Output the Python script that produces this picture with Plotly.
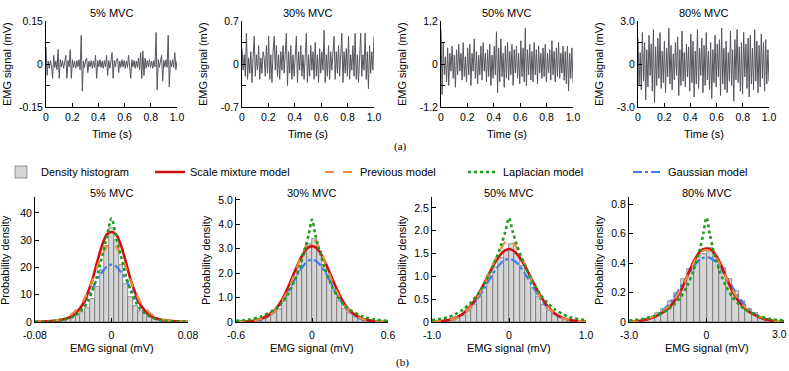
import plotly.graph_objects as go

W, H = 789, 371
SANS = "Liberation Sans, Arial, sans-serif"
SERIF = "Liberation Serif, Times New Roman, serif"

mvc_titles = ["5% MVC", "30% MVC", "50% MVC", "80% MVC"]

# ---- (a) raw EMG, 120 samples over 1 s ----
emg_5 = [0.06, -0.04, 0.01, -0.015, 0.012, -0.01, -0.05, 0.03, -0.012, 0.01,
         -0.02, 0.05, -0.05, 0.015, -0.01, 0.012, -0.015, 0.01, 0.03, -0.05,
         0.012, -0.01, 0.05, -0.05, 0.015, -0.012, 0.01, -0.015, 0.012, -0.01,
         0.015, -0.02, 0.10, -0.095, 0.01, -0.012, 0.015, 0.02, -0.03, 0.01,
         -0.01, 0.012, -0.015, 0.01, -0.012, 0.03, -0.05, 0.012, -0.01, 0.015,
         -0.012, 0.01, -0.015, 0.012, -0.01, 0.03, -0.04, 0.012, -0.015, 0.01,
         0.04, -0.05, 0.012, -0.01, 0.015, 0.02, -0.03, 0.01, -0.012, 0.015,
         -0.01, 0.012, -0.015, 0.01, -0.012, 0.03, -0.02, -0.05, 0.015, -0.01,
         0.012, -0.015, 0.01, -0.012, 0.02, -0.02, 0.04, -0.05, 0.045, -0.04,
         0.02, -0.015, 0.012, -0.01, 0.015, -0.012, 0.01, -0.015, 0.012, -0.01,
         0.11, -0.09, 0.015, -0.012, 0.01, 0.03, -0.06, 0.012, -0.01, 0.015,
         -0.012, 0.10, -0.08, 0.012, -0.01, 0.015, -0.012, 0.04, -0.02, 0.01]
emg_30 = [0.25, -0.1, 0.15, -0.2, 0.5, -0.25, 0.1, -0.15, 0.2, -0.3,
          0.1, 0.45, -0.2, 0.15, -0.1, 0.3, -0.25, 0.1, -0.15, 0.2,
          0.1, -0.2, 0.3, -0.15, 0.45, -0.25, 0.15, -0.3, 0.2, 0.45,
          -0.1, 0.3, -0.2, 0.15, -0.25, 0.2, -0.1, 0.3, -0.15, 0.1,
          0.5, -0.35, 0.2, -0.15, 0.3, -0.25, 0.15, -0.2, 0.25, 0.45,
          -0.3, 0.2, -0.1, 0.3, -0.2, 0.15, -0.25, 0.2, 0.5, -0.3,
          0.15, -0.2, 0.3, -0.1, 0.2, -0.25, 0.35, -0.2, 0.15, -0.3,
          0.25, -0.15, 0.2, -0.1, 0.55, -0.3, 0.15, -0.2, 0.3, -0.25,
          0.2, -0.1, 0.15, 0.45, -0.25, 0.2, -0.15, 0.3, -0.2, 0.1,
          0.5, -0.3, 0.2, -0.15, 0.25, -0.2, 0.45, -0.25, 0.15, -0.1,
          0.3, -0.2, 0.5, -0.25, 0.15, -0.3, 0.2, 0.5, -0.2, 0.15,
          -0.1, 0.5, -0.25, 0.2, -0.4, 0.3, -0.15, 0.2, -0.1, 0.45]
emg_50 = [0.95, -0.85, 0.6, -0.3, 0.2, -0.5, 0.45, -0.6, 0.3, -0.2,
          0.5, -0.4, 0.25, -0.65, 0.4, -0.3, 0.55, -0.2, 0.3, -0.45,
          0.6, -0.35, 0.2, -0.5, 0.45, -0.3, 0.55, -0.6, 0.3, -0.2,
          0.7, -0.4, 0.35, -0.55, 0.25, -0.3, 0.5, -0.45, 0.6, -0.2,
          0.3, -0.5, 0.4, -0.35, 0.55, -0.6, 0.25, -0.4, 0.5, -0.3,
          0.9, -0.8, 0.45, -0.5, 0.7, -0.35, 0.3, -0.65, 0.5, -0.4,
          0.6, -0.45, 0.35, -0.3, 0.55, -0.6, 0.4, -0.25, 0.5, -0.4,
          0.3, -0.55, 0.65, -0.35, 0.45, -0.5, 1.0, -0.6, 0.4, -0.3,
          0.55, -0.45, 0.35, -0.5, 0.6, -0.3, 0.4, -0.55, 0.5, -0.25,
          0.3, -0.4, 0.45, -0.35, 0.55, -0.5, 0.3, -0.25, 0.4, -0.45,
          0.65, -0.3, 0.35, -0.5, 0.45, -0.35, 0.6, -0.4, 0.3, -0.25,
          0.5, -0.45, 0.35, -0.55, 0.5, -0.75, 0.3, -0.4, 0.45, -0.5]
emg_80 = [1.8, -1.5, 0.8, -1.8, 2.2, -1.2, 1.5, -2.5, 1.0, -1.6,
          2.0, -0.8, 1.4, -1.9, 2.4, -2.7, 1.2, -1.5, 1.8, -1.0,
          2.2, -1.7, 0.9, -1.3, 1.6, -2.0, 1.1, -0.9, 2.5, -1.4,
          1.3, -1.8, 0.7, -1.1, 1.5, -0.8, 1.9, -2.2, 1.0, -1.5,
          2.3, -1.2, 0.8, -1.6, 1.4, -0.9, 1.2, -1.9, 2.1, -1.3,
          1.6, -2.3, 0.9, -1.4, 2.4, -1.7, 1.1, -0.8, 1.8, -2.0,
          1.3, -1.5, 2.2, -1.1, 0.9, -1.8, 1.5, -2.4, 1.0, -1.3,
          2.0, -1.6, 1.4, -0.9, 1.7, -2.2, 2.5, -1.4, 1.1, -1.8,
          1.6, -2.0, 0.8, -1.2, 2.3, -1.5, 1.0, -2.6, 1.7, -1.1,
          2.4, -1.3, 1.2, -1.9, 1.5, -2.1, 2.2, -0.9, 1.4, -1.7,
          1.8, -2.3, 2.0, -1.4, 1.1, -1.8, 2.4, -1.2, 1.6, -2.0,
          1.3, -1.6, 2.1, -1.0, 1.5, -1.9, 1.7, -1.4, 1.0, -1.2]
emg_signals = [emg_5, emg_30, emg_50, emg_80]
emg_lim = [0.15, 0.7, 1.2, 3.0]
emg_ylabels = [["-0.15", "0", "0.15"], ["-0.7", "0", "0.7"],
               ["-1.2", "0", "1.2"], ["-3.0", "0", "3.0"]]
time_ticks = [0, 0.2, 0.4, 0.6, 0.8, 1.0]
time_ticktext = ["0", "0.2", "0.4", "0.6", "0.8", "1.0"]

# ---- (b) density histograms ----
hist_x_5 = [-0.06, -0.055, -0.05, -0.045, -0.04, -0.035, -0.03, -0.025, -0.02, -0.015, -0.01, -0.005,
            0, 0.005, 0.01, 0.015, 0.02, 0.025, 0.03, 0.035, 0.04, 0.045, 0.05, 0.055, 0.06]
hist_y_5 = [0.3, 0.5, 0.8, 1.2, 1.8, 2.5, 3.5, 5, 8.5, 13, 19, 28,
            34.5, 30, 21, 14, 9, 6, 4, 3, 2, 1.3, 0.8, 0.5, 0.3]
hist_x_30 = [-0.46, -0.42, -0.38, -0.34, -0.30, -0.26, -0.22, -0.18, -0.14, -0.10, -0.06, -0.02,
             0.02, 0.06, 0.10, 0.14, 0.18, 0.22, 0.26, 0.30, 0.34, 0.38, 0.42, 0.46]
hist_y_30 = [0.04, 0.07, 0.12, 0.2, 0.35, 0.55, 0.85, 1.25, 1.75, 2.3, 2.8, 3.2,
             3.4, 2.9, 2.35, 1.75, 1.25, 0.85, 0.55, 0.35, 0.2, 0.12, 0.07, 0.04]
hist_x_50 = [-0.875, -0.805, -0.735, -0.665, -0.595, -0.525, -0.455, -0.385, -0.315, -0.245, -0.175, -0.105, -0.035,
             0.035, 0.105, 0.175, 0.245, 0.315, 0.385, 0.455, 0.525, 0.595, 0.665, 0.735, 0.805, 0.875]
hist_y_50 = [0.02, 0.035, 0.06, 0.1, 0.16, 0.25, 0.38, 0.55, 0.75, 1.0, 1.2, 1.4, 1.55,
             1.7, 1.48, 1.22, 1.0, 0.75, 0.55, 0.38, 0.25, 0.16, 0.1, 0.06, 0.035, 0.02]
hist_x_80 = [-2.875, -2.625, -2.375, -2.125, -1.875, -1.625, -1.375, -1.125, -0.875, -0.625, -0.375, -0.125,
             0.125, 0.375, 0.625, 0.875, 1.125, 1.375, 1.625, 1.875, 2.125, 2.375, 2.625, 2.875]
hist_y_80 = [0.005, 0.01, 0.02, 0.035, 0.06, 0.09, 0.14, 0.2, 0.29, 0.36, 0.42, 0.46,
             0.5, 0.44, 0.37, 0.29, 0.21, 0.14, 0.09, 0.06, 0.035, 0.02, 0.01, 0.005]
hist_x = [hist_x_5, hist_x_30, hist_x_50, hist_x_80]
hist_y = [hist_y_5, hist_y_30, hist_y_50, hist_y_80]
bin_width = [0.005, 0.04, 0.07, 0.25]

# ---- (b) fitted model curves (read at these x points) ----
curve_x_5 = [-0.08, -0.06, -0.05, -0.04, -0.03, -0.025, -0.02, -0.015, -0.01, -0.005, 0,
             0.005, 0.01, 0.015, 0.02, 0.025, 0.03, 0.04, 0.05, 0.06, 0.08]
scale_5 = [0.1, 0.4, 1.0, 2.5, 6.5, 10.5, 15.5, 22, 28, 32, 33, 32, 28, 22, 15.5, 10.5, 6.5, 2.5, 1.0, 0.4, 0.1]
prev_5 = [0.1, 0.5, 1.3, 3.3, 7.5, 11, 15, 20, 24.5, 27.5, 29, 27.5, 24.5, 20, 15, 11, 7.5, 3.3, 1.3, 0.5, 0.1]
lap_5 = [0.1, 0.4, 0.9, 2.0, 4.8, 7.5, 11.5, 17, 24, 31, 38, 31, 24, 17, 11.5, 7.5, 4.8, 2.0, 0.9, 0.4, 0.1]
gauss_5 = [0, 0.14, 0.66, 2.3, 6.1, 9.2, 12.2, 15.7, 18.2, 20.3, 21, 20.3, 18.2, 15.7, 12.2, 9.2, 6.1, 2.3, 0.66, 0.14, 0]

curve_x_30 = [-0.6, -0.5, -0.4, -0.3, -0.25, -0.2, -0.15, -0.1, -0.05, -0.025, 0,
              0.025, 0.05, 0.1, 0.15, 0.2, 0.25, 0.3, 0.4, 0.5, 0.6]
scale_30 = [0.01, 0.03, 0.13, 0.45, 0.8, 1.3, 1.9, 2.5, 2.95, 3.07, 3.1, 3.07, 2.95, 2.5, 1.9, 1.3, 0.8, 0.45, 0.13, 0.03, 0.01]
prev_30 = [0.01, 0.03, 0.12, 0.42, 0.75, 1.2, 1.8, 2.5, 3.1, 3.33, 3.4, 3.33, 3.1, 2.5, 1.8, 1.2, 0.75, 0.42, 0.12, 0.03, 0.01]
lap_30 = [0.05, 0.1, 0.23, 0.5, 0.72, 1.05, 1.55, 2.2, 3.1, 3.6, 4.2, 3.6, 3.1, 2.2, 1.55, 1.05, 0.72, 0.5, 0.23, 0.1, 0.05]
gauss_30 = [0.002, 0.015, 0.095, 0.4, 0.71, 1.12, 1.61, 2.07, 2.42, 2.52, 2.55, 2.52, 2.42, 2.07, 1.61, 1.12, 0.71, 0.4, 0.095, 0.015, 0.002]

curve_x_50 = [-1.0, -0.8, -0.7, -0.6, -0.5, -0.4, -0.3, -0.2, -0.1, -0.05, 0,
              0.05, 0.1, 0.2, 0.3, 0.4, 0.5, 0.6, 0.7, 0.8, 1.0]
scale_50 = [0.01, 0.04, 0.09, 0.18, 0.35, 0.6, 0.92, 1.25, 1.5, 1.57, 1.6, 1.57, 1.5, 1.25, 0.92, 0.6, 0.35, 0.18, 0.09, 0.04, 0.01]
prev_50 = [0.01, 0.04, 0.08, 0.17, 0.33, 0.57, 0.9, 1.3, 1.62, 1.75, 1.8, 1.75, 1.62, 1.3, 0.9, 0.57, 0.33, 0.17, 0.08, 0.04, 0.01]
lap_50 = [0.04, 0.1, 0.17, 0.27, 0.42, 0.62, 0.9, 1.25, 1.7, 1.97, 2.28, 1.97, 1.7, 1.25, 0.9, 0.62, 0.42, 0.27, 0.17, 0.1, 0.04]
gauss_50 = [0.003, 0.03, 0.074, 0.16, 0.31, 0.53, 0.8, 1.08, 1.3, 1.36, 1.38, 1.36, 1.3, 1.08, 0.8, 0.53, 0.31, 0.16, 0.074, 0.03, 0.003]

curve_x_80 = [-3.0, -2.5, -2.0, -1.5, -1.25, -1.0, -0.75, -0.5, -0.25, -0.125, 0,
              0.125, 0.25, 0.5, 0.75, 1.0, 1.25, 1.5, 2.0, 2.5, 3.0]
scale_80 = [0.003, 0.01, 0.035, 0.09, 0.14, 0.21, 0.31, 0.41, 0.48, 0.495, 0.5, 0.495, 0.48, 0.41, 0.31, 0.21, 0.14, 0.09, 0.035, 0.01, 0.003]
prev_80 = [0.003, 0.012, 0.04, 0.1, 0.15, 0.22, 0.31, 0.4, 0.47, 0.485, 0.49, 0.485, 0.47, 0.4, 0.31, 0.22, 0.15, 0.1, 0.04, 0.012, 0.003]
lap_80 = [0.01, 0.02, 0.041, 0.084, 0.12, 0.17, 0.245, 0.35, 0.5, 0.6, 0.71, 0.6, 0.5, 0.35, 0.245, 0.17, 0.12, 0.084, 0.041, 0.02, 0.01]
gauss_80 = [0.002, 0.0098, 0.038, 0.112, 0.168, 0.24, 0.31, 0.378, 0.425, 0.436, 0.44, 0.436, 0.425, 0.378, 0.31, 0.24, 0.168, 0.112, 0.038, 0.0098, 0.002]

curve_x = [curve_x_5, curve_x_30, curve_x_50, curve_x_80]
scale_mix = [scale_5, scale_30, scale_50, scale_80]
previous = [prev_5, prev_30, prev_50, prev_80]
laplacian = [lap_5, lap_30, lap_50, lap_80]
gaussian = [gauss_5, gauss_30, gauss_50, gauss_80]

pdf_xlim = [0.08, 0.6, 1.0, 3.0]
pdf_xticktext = [["-0.08", "0", "0.08"], ["-0.6", "0", "0.6"], ["-1.0", "0", "1.0"], ["-3.0", "0", ""]]
pdf_yticks = [[0, 10, 20, 30, 40], [0, 1, 2, 3, 4, 5], [0, 0.5, 1.0, 1.5, 2.0, 2.5], [0, 0.2, 0.4, 0.6, 0.8]]
pdf_yticktext = [["0", "10", "20", "30", "40"], ["0", "1.0", "2.0", "3.0", "4.0", "5.0"],
                 ["0", "0.5", "1.0", "1.5", "2.0", "2.5"], ["0", "0.2", "0.4", "0.6", "0.8"]]
pdf_ymax = [45.8, 5.12, 2.74, 0.85]

# pixel layout of the panels
top_px = [(46, 177), (242, 374), (441, 573), (638, 769)]
top_y = (21, 107)
bot_px = [(35, 188), (236, 388), (432, 586), (629, 784)]
bot_y = (197, 322)


def fx(p):
    return p / W


def fy(p):
    return 1 - p / H


def note(text, x, y, **kw):
    d = dict(text=text, x=fx(x), y=fy(y), xref="paper", yref="paper", showarrow=False,
             xanchor="center", yanchor="middle")
    d.update(kw)
    return d


fig = go.Figure()
layout = {}
ann = []
axis_common = dict(showgrid=False, zeroline=False, showline=True, linecolor="black", linewidth=1,
                   ticks="inside", ticklen=4, tickcolor="black", tickwidth=1, automargin=False,
                   tickfont=dict(family=SANS, size=10.5, color="black"))

models = [
    ("Gaussian model", gaussian, dict(color="#3d7ef2", width=2.2, dash="dashdot"), "legend5"),
    ("Scale mixture model", scale_mix, dict(color="#d01010", width=2.6), "legend2"),
    ("Previous model", previous, dict(color="#f28a3c", width=2.2, dash="dash"), "legend3"),
    ("Laplacian model", laplacian, dict(color="#1e9c1e", width=2.6, dash="dot"), "legend4"),
]

for i in range(4):
    # --- top row: raw EMG ---
    xa, ya = f"x{i + 1}", f"y{i + 1}"
    sig = emg_signals[i]
    t = [k / (len(sig) - 1) for k in range(len(sig))]
    fig.add_trace(go.Scatter(x=t, y=sig, mode="lines", xaxis=xa, yaxis=ya,
                             line=dict(color="#55555c", width=1), showlegend=False))
    lim = emg_lim[i]
    layout[f"xaxis{i + 1}"] = dict(axis_common, domain=[fx(top_px[i][0]), fx(top_px[i][1])],
                                   range=[0, 1.0], anchor=ya, tickvals=time_ticks, ticktext=time_ticktext)
    layout[f"yaxis{i + 1}"] = dict(axis_common, domain=[fy(top_y[1]), fy(top_y[0])],
                                   range=[-lim, lim], anchor=xa,
                                   tickvals=[-lim, -lim / 2, 0, lim / 2, lim],
                                   ticktext=[emg_ylabels[i][0], "", "0", "", emg_ylabels[i][2]])
    cx = (top_px[i][0] + top_px[i][1]) / 2
    ann.append(note(mvc_titles[i], cx, 13))
    ann.append(note("Time (s)", cx, 134))
    ann.append(note("EMG signal (mV)", top_px[i][0] - 39, 64, textangle=-90))

    # --- bottom row: densities ---
    j = i + 5
    xb, yb = f"x{j}", f"y{j}"
    fig.add_trace(go.Bar(x=hist_x[i], y=hist_y[i], width=bin_width[i], xaxis=xb, yaxis=yb,
                         marker=dict(color="#d6d6d6", line=dict(color="#5a5a5a", width=0.6)),
                         name="Density histogram", legend="legend", showlegend=(i == 0)))
    for name, data, line, leg in models:
        fig.add_trace(go.Scatter(x=curve_x[i], y=data[i], mode="lines", line=dict(line, shape="spline", smoothing=0.8),
                                 xaxis=xb, yaxis=yb, name=name, legend=leg, showlegend=(i == 0)))
    xl = pdf_xlim[i]
    layout[f"xaxis{j}"] = dict(axis_common, domain=[fx(bot_px[i][0]), fx(bot_px[i][1])],
                               range=[-xl, xl], anchor=yb, tickvals=[-xl, 0, xl], ticktext=pdf_xticktext[i],
                               ticklabelstandoff=3)
    layout[f"yaxis{j}"] = dict(axis_common, domain=[fy(bot_y[1]), fy(bot_y[0])],
                               range=[0, pdf_ymax[i]], anchor=xb, tickvals=pdf_yticks[i], ticktext=pdf_yticktext[i])
    cx = (bot_px[i][0] + bot_px[i][1]) / 2
    ann.append(note(mvc_titles[i], cx, 193))
    ann.append(note("EMG signal (mV)", cx, 348))
    ann.append(note("Probability density", bot_px[i][0] - 30, 260, textangle=-90))

# the last tick label would be clipped at the right edge
ann.append(note("3.0", 789, 334, xanchor="right", font=dict(family=SANS, size=10.5)))
ann.append(note("(a)", 400, 146, font=dict(family=SERIF, size=11)))
ann.append(note("(b)", 403, 362, font=dict(family=SERIF, size=11)))

leg_font = dict(family=SANS, size=11, color="black")
leg_x = {"legend": 1, "legend2": 150, "legend3": 320, "legend4": 463, "legend5": 628}
for k, px in leg_x.items():
    layout[k] = dict(x=fx(px), y=fy(172), xanchor="left", yanchor="middle", orientation="h",
                     font=leg_font, bgcolor="rgba(0,0,0,0)")

fig.update_layout(
    width=W, height=H,
    margin=dict(l=0, r=0, t=0, b=0, autoexpand=False),
    paper_bgcolor="white", plot_bgcolor="white",
    font=dict(family=SANS, size=11, color="black"),
    bargap=0,
    annotations=ann,
    **layout,
)

# drop the page's default body margin so the figure sits at the window origin
fig.write_html("out.html", config={"displayModeBar": False},
               post_script="document.body.style.margin = '0';")
